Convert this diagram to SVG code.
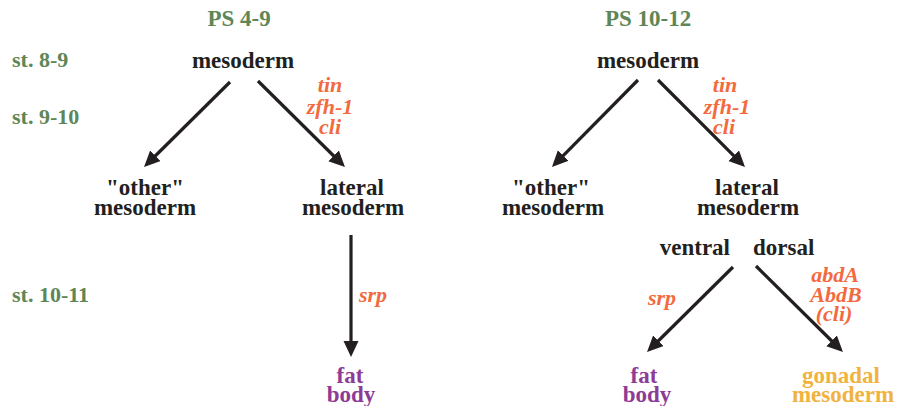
<svg xmlns="http://www.w3.org/2000/svg" width="906" height="406" viewBox="0 0 906 406">
  <style>
    .node { fill: #231f20; }
    .stage { fill: #5e8656; }
    .head { fill: #5e8656; }
    .gene { fill: #f26a3e; }
    .fat { fill: #8e3b96; }
    .gonad { fill: #f0b33e; }
    .edge { stroke: #231f20; stroke-width: 3.2; fill: none; }
  </style>
  <defs>
    <marker id="arrow" markerUnits="userSpaceOnUse" markerWidth="18" markerHeight="16" refX="1" refY="7.5" orient="auto">
      <path d="M0,0 L16,7.5 L0,15 z" fill="#231f20"/>
    </marker>
  </defs>
  <rect width="906" height="406" fill="#ffffff"/>

  <!-- column headings and stage labels -->
  <g id="headings">
    <text class="head" x="239" y="26" font-family="Liberation Serif" font-weight="bold" font-size="23" text-anchor="middle">PS 4-9</text>
    <text class="head" x="648" y="26" font-family="Liberation Serif" font-weight="bold" font-size="23" text-anchor="middle">PS 10-12</text>
    <text class="stage" x="12" y="67" font-family="Liberation Serif" font-weight="bold" font-size="22">st. 8-9</text>
    <text class="stage" x="12" y="124" font-family="Liberation Serif" font-weight="bold" font-size="22">st. 9-10</text>
    <text class="stage" x="12" y="302" font-family="Liberation Serif" font-weight="bold" font-size="22">st. 10-11</text>
  </g>

  <!-- connectors -->
  <g id="connectors">
    <line class="edge" marker-end="url(#arrow)" x1="230" y1="82" x2="154.7" y2="156.5"/>
    <line class="edge" marker-end="url(#arrow)" x1="258" y1="81" x2="334.3" y2="156.5"/>
    <line class="edge" marker-end="url(#arrow)" x1="351" y1="235" x2="351" y2="342"/>
    <line class="edge" marker-end="url(#arrow)" x1="638" y1="80" x2="562.5" y2="156.3"/>
    <line class="edge" marker-end="url(#arrow)" x1="658" y1="80" x2="734.4" y2="156.4"/>
    <line class="edge" marker-end="url(#arrow)" x1="733" y1="267" x2="657.7" y2="341.5"/>
    <line class="edge" marker-end="url(#arrow)" x1="756" y1="266" x2="832.3" y2="341.5"/>
  </g>

  <!-- gene labels on connectors -->
  <g id="genes">
    <text class="gene" x="330" y="92" font-family="Liberation Serif" font-weight="bold" font-style="italic" font-size="22" text-anchor="middle">tin</text>
    <text class="gene" x="330" y="114" font-family="Liberation Serif" font-weight="bold" font-style="italic" font-size="22" text-anchor="middle">zfh-1</text>
    <text class="gene" x="330" y="134" font-family="Liberation Serif" font-weight="bold" font-style="italic" font-size="22" text-anchor="middle">cli</text>
    <text class="gene" x="725" y="92" font-family="Liberation Serif" font-weight="bold" font-style="italic" font-size="22" text-anchor="middle">tin</text>
    <text class="gene" x="727" y="114" font-family="Liberation Serif" font-weight="bold" font-style="italic" font-size="22" text-anchor="middle">zfh-1</text>
    <text class="gene" x="724" y="134" font-family="Liberation Serif" font-weight="bold" font-style="italic" font-size="22" text-anchor="middle">cli</text>
    <text class="gene" x="373" y="302" font-family="Liberation Serif" font-weight="bold" font-style="italic" font-size="22" text-anchor="middle">srp</text>
    <text class="gene" x="662" y="305" font-family="Liberation Serif" font-weight="bold" font-style="italic" font-size="22" text-anchor="middle">srp</text>
    <text class="gene" x="835" y="282" font-family="Liberation Serif" font-weight="bold" font-style="italic" font-size="22" text-anchor="middle">abdA</text>
    <text class="gene" x="836" y="302" font-family="Liberation Serif" font-weight="bold" font-style="italic" font-size="22" text-anchor="middle">AbdB</text>
    <text class="gene" x="834" y="321" font-family="Liberation Serif" font-weight="bold" font-style="italic" font-size="22" text-anchor="middle">(cli)</text>
  </g>

  <!-- left column nodes -->
  <g id="mesoderm-left">
    <text class="node" x="243" y="68" font-family="Liberation Serif" font-weight="bold" font-size="23" text-anchor="middle">mesoderm</text>
  </g>
  <g id="other-left">
    <text class="node" x="145" y="195" font-family="Liberation Serif" font-weight="bold" font-size="23" text-anchor="middle">"other"</text>
    <text class="node" x="145" y="215" font-family="Liberation Serif" font-weight="bold" font-size="23" text-anchor="middle">mesoderm</text>
  </g>
  <g id="lateral-left">
    <text class="node" x="352" y="195" font-family="Liberation Serif" font-weight="bold" font-size="23" text-anchor="middle">lateral</text>
    <text class="node" x="353" y="215" font-family="Liberation Serif" font-weight="bold" font-size="23" text-anchor="middle">mesoderm</text>
  </g>
  <g id="fatbody-left">
    <text class="fat" x="350" y="383" font-family="Liberation Serif" font-weight="bold" font-size="23" text-anchor="middle">fat</text>
    <text class="fat" x="351" y="402" font-family="Liberation Serif" font-weight="bold" font-size="23" text-anchor="middle">body</text>
  </g>

  <!-- right column nodes -->
  <g id="mesoderm-right">
    <text class="node" x="648" y="68" font-family="Liberation Serif" font-weight="bold" font-size="23" text-anchor="middle">mesoderm</text>
  </g>
  <g id="other-right">
    <text class="node" x="551" y="195" font-family="Liberation Serif" font-weight="bold" font-size="23" text-anchor="middle">"other"</text>
    <text class="node" x="553" y="215" font-family="Liberation Serif" font-weight="bold" font-size="23" text-anchor="middle">mesoderm</text>
  </g>
  <g id="lateral-right">
    <text class="node" x="747" y="195" font-family="Liberation Serif" font-weight="bold" font-size="23" text-anchor="middle">lateral</text>
    <text class="node" x="748" y="215" font-family="Liberation Serif" font-weight="bold" font-size="23" text-anchor="middle">mesoderm</text>
  </g>
  <g id="ventral">
    <text class="node" x="730" y="255" font-family="Liberation Serif" font-weight="bold" font-size="23" text-anchor="end">ventral</text>
  </g>
  <g id="dorsal">
    <text class="node" x="753" y="255" font-family="Liberation Serif" font-weight="bold" font-size="23">dorsal</text>
  </g>
  <g id="fatbody-right">
    <text class="fat" x="644" y="383" font-family="Liberation Serif" font-weight="bold" font-size="23" text-anchor="middle">fat</text>
    <text class="fat" x="647" y="402" font-family="Liberation Serif" font-weight="bold" font-size="23" text-anchor="middle">body</text>
  </g>
  <g id="gonadal">
    <text class="gonad" x="841" y="383" font-family="Liberation Serif" font-weight="bold" font-size="23" text-anchor="middle">gonadal</text>
    <text class="gonad" x="843" y="402" font-family="Liberation Serif" font-weight="bold" font-size="23" text-anchor="middle">mesoderm</text>
  </g>
</svg>
